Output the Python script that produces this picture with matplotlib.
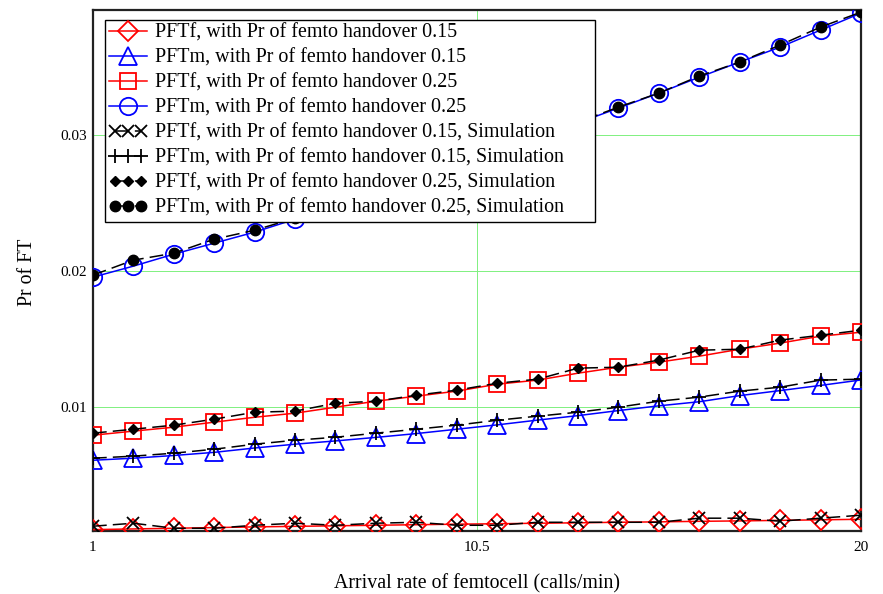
import matplotlib
matplotlib.use("Agg")
import matplotlib.pyplot as plt
from matplotlib.legend_handler import HandlerLine2D
from matplotlib.patches import Rectangle

plt.rcParams["font.family"] = ["Liberation Serif", "DejaVu Serif"]

# arrival rate (calls/min)
x = list(range(1, 21))

# analytical results
pftf_015 = [0.00100, 0.00105, 0.00110, 0.00115, 0.00120, 0.00124, 0.00128, 0.00132, 0.00136, 0.00140,
            0.00143, 0.00147, 0.00150, 0.00154, 0.00157, 0.00161, 0.00164, 0.00168, 0.00172, 0.00176]
pftm_015 = [0.00610, 0.00625, 0.00645, 0.00668, 0.00700, 0.00728, 0.00752, 0.00778, 0.00806, 0.00838,
            0.00870, 0.00905, 0.00938, 0.00975, 0.01010, 0.01040, 0.01085, 0.01122, 0.01160, 0.01200]
pftf_025 = [0.00794, 0.00824, 0.00853, 0.00890, 0.00926, 0.00956, 0.01000, 0.01044, 0.01081, 0.01118,
            0.01169, 0.01199, 0.01250, 0.01294, 0.01331, 0.01375, 0.01426, 0.01471, 0.01522, 0.01551]
pftm_025 = [0.01956, 0.02037, 0.02125, 0.02206, 0.02287, 0.02382, 0.02476, 0.02572, 0.02670, 0.02770,
            0.02875, 0.02980, 0.03090, 0.03199, 0.03309, 0.03426, 0.03537, 0.03647, 0.03772, 0.03897]

# simulation results
sim_pftf_015 = [0.00125, 0.00147, 0.00110, 0.00110, 0.00132, 0.00147, 0.00132, 0.00147, 0.00154, 0.00132,
                0.00132, 0.00154, 0.00154, 0.00154, 0.00154, 0.00184, 0.00184, 0.00162, 0.00184, 0.00206]
sim_pftm_015 = [0.00625, 0.00640, 0.00662, 0.00691, 0.00728, 0.00757, 0.00779, 0.00809, 0.00838, 0.00868,
                0.00904, 0.00934, 0.00963, 0.01000, 0.01044, 0.01074, 0.01118, 0.01147, 0.01199, 0.01206]
sim_pftf_025 = [0.00809, 0.00838, 0.00868, 0.00912, 0.00963, 0.00971, 0.01029, 0.01044, 0.01088, 0.01125,
                0.01176, 0.01206, 0.01287, 0.01294, 0.01346, 0.01419, 0.01426, 0.01493, 0.01529, 0.01566]
sim_pftm_025 = [0.01971, 0.02081, 0.02132, 0.02235, 0.02301, 0.02390, 0.02480, 0.02575, 0.02672, 0.02772,
                0.02878, 0.02985, 0.03095, 0.03206, 0.03309, 0.03434, 0.03537, 0.03662, 0.03794, 0.03904]

labels = [
    "PFTf, with Pr of femto handover 0.15",
    "PFTm, with Pr of femto handover 0.15",
    "PFTf, with Pr of femto handover 0.25",
    "PFTm, with Pr of femto handover 0.25",
    "PFTf, with Pr of femto handover 0.15, Simulation",
    "PFTm, with Pr of femto handover 0.15, Simulation",
    "PFTf, with Pr of femto handover 0.25, Simulation",
    "PFTm, with Pr of femto handover 0.25, Simulation",
]

fig = plt.figure(figsize=(8.83, 5.94), dpi=100)
ax = fig.add_axes([0.1053, 0.1061, 0.8697, 0.8771])

lw = 1.1
dash = (0, (9, 4))
open_kw = dict(markerfacecolor="none", markeredgewidth=1.3)

l1, = ax.plot(x, pftf_015, color="red", lw=lw, marker="D", ms=10, label=labels[0], **open_kw, zorder=3)
l2, = ax.plot(x, pftm_015, color="blue", lw=lw, marker="^", ms=13, label=labels[1], **open_kw, zorder=3)
l3, = ax.plot(x, pftf_025, color="red", lw=lw, marker="s", ms=11.5, label=labels[2], **open_kw, zorder=3)
l4, = ax.plot(x, pftm_025, color="blue", lw=lw, marker="o", ms=12.5, label=labels[3], **open_kw, zorder=3)

s1, = ax.plot(x, sim_pftf_015, color="black", lw=lw, ls=dash, marker="x", ms=9, mew=1.3, label=labels[4], zorder=4)
s2, = ax.plot(x, sim_pftm_015, color="black", lw=lw, ls=dash, marker="+", ms=10, mew=1.3, label=labels[5], zorder=4)
s3, = ax.plot(x, sim_pftf_025, color="black", lw=lw, ls=dash, marker="D", ms=5.5, label=labels[6], zorder=4)
s4, = ax.plot(x, sim_pftm_025, color="black", lw=lw, ls=dash, marker="o", ms=7.5, label=labels[7], zorder=4)

ax.set_xlim(1, 20)
ax.set_ylim(0.0009, 0.0392)
ax.set_xticks([1, 10.5, 20])
ax.set_xticklabels(["1", "10.5", "20"])
ax.set_yticks([0.01, 0.02, 0.03])
ax.set_yticklabels(["0.01", "0.02", "0.03"])
ax.tick_params(length=0, labelsize=11)
ax.tick_params(axis="x", pad=7)
ax.tick_params(axis="y", pad=4)
ax.grid(True, color="#80f080", lw=0.7)
ax.set_axisbelow(True)
for sp in ax.spines.values():
    sp.set_linewidth(1.6)
    sp.set_color("#222222")

ax.set_xlabel("Arrival rate of femtocell (calls/min)", fontsize=14.3)
ax.xaxis.set_label_coords(0.5, -0.083)
ax.set_ylabel("Pr of FT", fontsize=14.3)
ax.yaxis.set_label_coords(-0.073, 0.497)

hm = {s: HandlerLine2D(numpoints=3) for s in (s1, s2, s3, s4)}
leg = ax.legend(handles=[l1, l2, l3, l4, s1, s2, s3, s4], handler_map=hm,
                loc="upper left", bbox_to_anchor=(0.0156, 0.981), borderaxespad=0,
                fontsize=14.4, frameon=False, handlelength=1.9, handletextpad=0.4,
                labelspacing=0.3, borderpad=0.2, numpoints=1)
leg.set_zorder(10)

# legend box is wider than its text in the original, draw the frame by hand
fig.canvas.draw()
bb = leg.get_window_extent().transformed(ax.transAxes.inverted())
extra = 27 / (ax.get_window_extent().width)
box = Rectangle((bb.x0, bb.y0), bb.width + extra, bb.height, transform=ax.transAxes,
                facecolor="white", edgecolor="black", lw=1.0, zorder=9)
ax.add_patch(box)

fig.savefig("out.png", dpi=100)
